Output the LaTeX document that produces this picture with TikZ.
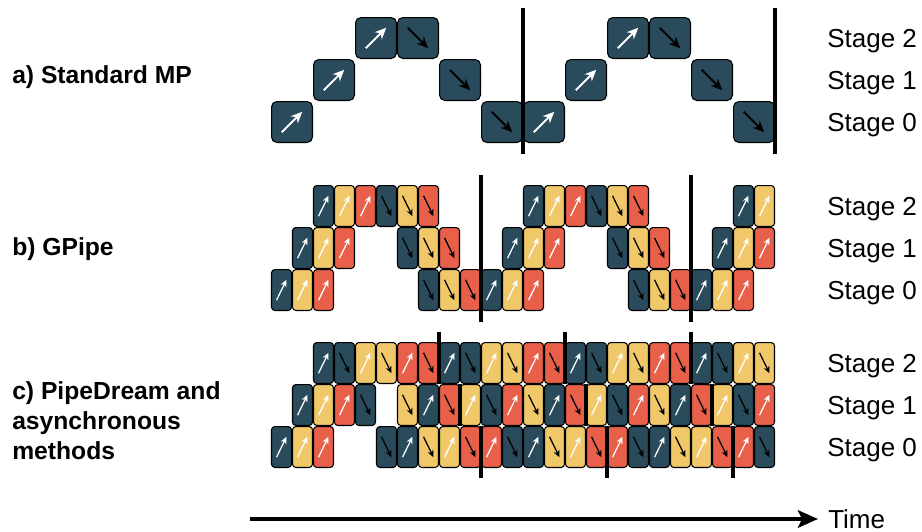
\documentclass[tikz,border=0pt]{standalone}
\usepackage{fontspec}
\setmainfont{Liberation Sans}
\usetikzlibrary{arrows.meta,calc,positioning}
\definecolor{dk}{HTML}{294B5B}
\definecolor{ye}{HTML}{F0C86A}
\definecolor{rd}{HTML}{E8604A}
\begin{document}
\begin{tikzpicture}[
	  x=0.75pt, y=-0.75pt,
	  ar/.style={line width=0.95pt, -{Stealth[length=5.2pt, width=4.6pt]}},
	  arbig/.style={line width=1.5pt, -{Stealth[length=8.5pt, width=7.5pt]}},
	  fw/.style={path picture={\draw[ar, white, #1]
	      ($(path picture bounding box.south west)!.25!(path picture bounding box.north east)$) --
	      ($(path picture bounding box.south west)!.75!(path picture bounding box.north east)$);}},
	  fw/.default={},
	  bw/.style={path picture={\draw[ar, black, #1]
	      ($(path picture bounding box.north west)!.25!(path picture bounding box.south east)$) --
	      ($(path picture bounding box.north west)!.75!(path picture bounding box.south east)$);}},
	  bw/.default={},
	  mb/.style={draw=black, line width=0.8pt, rounded corners=2.5pt, minimum width=15pt,
	    minimum height=30.7pt, inner sep=0pt},
	  bigmb/.style={mb, rounded corners=4pt, minimum width=30.7pt},
	  sep/.style={line width=2.6pt},
	  panel/.style={font=\fontsize{18.5}{22.5}\selectfont\bfseries, anchor=west, align=left, inner sep=0pt},
	  stagelab/.style={font=\fontsize{19.5}{23}\selectfont, anchor=west, inner sep=0pt},
	  timeline/.style={line width=3pt, -{Stealth[length=15pt, width=13pt, inset=3pt]}}]
	  \useasboundingbox (0,0) rectangle (922,532);
	  \node[panel] (la) at (12,77) {a) Standard MP};
	  \node[panel] (lb) at (12,249) {b) GPipe};
	  \node[panel] (lc) at (12,421) {c) PipeDream and\\asynchronous\\methods};
	  \foreach \y/\t in {41/2,83/1,125/0,209/2,251/1,293/0,366/2,408/1,450/0}
	    \node[stagelab] (st-\y) at (827,\y) {Stage \t};
	  \foreach \c/\s/\d in {0/0/fw,1/1/fw,2/2/fw,3/2/bw,4/1/bw,5/0/bw,
	      6/0/fw,7/1/fw,8/2/fw,9/2/bw,10/1/bw,11/0/bw}
	    \node[bigmb, fill=dk, \d=arbig] (mp-\c) at ({292+42*\c}, {122-42*\s}) {};
	  \foreach \c/\s/\f/\d in {0/0/dk/fw,1/0/ye/fw,2/0/rd/fw,7/0/dk/bw,8/0/ye/bw,9/0/rd/bw,
	      10/0/dk/fw,11/0/ye/fw,12/0/rd/fw,17/0/dk/bw,18/0/ye/bw,19/0/rd/bw,
	      20/0/dk/fw,21/0/ye/fw,22/0/rd/fw,
	      1/1/dk/fw,2/1/ye/fw,3/1/rd/fw,6/1/dk/bw,7/1/ye/bw,8/1/rd/bw,
	      11/1/dk/fw,12/1/ye/fw,13/1/rd/fw,16/1/dk/bw,17/1/ye/bw,18/1/rd/bw,
	      21/1/dk/fw,22/1/ye/fw,23/1/rd/fw,
	      2/2/dk/fw,3/2/ye/fw,4/2/rd/fw,5/2/dk/bw,6/2/ye/bw,7/2/rd/bw,
	      12/2/dk/fw,13/2/ye/fw,14/2/rd/fw,15/2/dk/bw,16/2/ye/bw,17/2/rd/bw,
	      22/2/dk/fw,23/2/ye/fw}
	    \node[mb, fill=\f, \d] (gp-\s-\c) at ({281.5+21*\c}, {290-42*\s}) {};
	  \foreach \c/\s/\f/\d in {0/0/dk/fw,1/0/ye/fw,2/0/rd/fw,5/0/dk/bw,6/0/dk/fw,7/0/ye/bw,
	      8/0/ye/fw,9/0/rd/bw,10/0/rd/fw,11/0/dk/bw,12/0/dk/fw,13/0/ye/bw,14/0/ye/fw,15/0/rd/bw,
	      16/0/rd/fw,17/0/dk/bw,18/0/dk/fw,19/0/ye/bw,20/0/ye/fw,21/0/rd/bw,22/0/rd/fw,23/0/dk/bw,
	      1/1/dk/fw,2/1/ye/fw,3/1/rd/fw,4/1/dk/bw,6/1/ye/bw,7/1/dk/fw,8/1/rd/bw,
	      9/1/ye/fw,10/1/dk/bw,11/1/rd/fw,12/1/ye/bw,13/1/dk/fw,14/1/rd/bw,
	      15/1/ye/fw,16/1/dk/bw,17/1/rd/fw,18/1/ye/bw,19/1/dk/fw,20/1/rd/bw,
	      21/1/ye/fw,22/1/dk/bw,23/1/rd/fw,
	      2/2/dk/fw,3/2/dk/bw,4/2/ye/fw,5/2/ye/bw,6/2/rd/fw,7/2/rd/bw,
	      8/2/dk/fw,9/2/dk/bw,10/2/ye/fw,11/2/ye/bw,12/2/rd/fw,13/2/rd/bw,
	      14/2/dk/fw,15/2/dk/bw,16/2/ye/fw,17/2/ye/bw,18/2/rd/fw,19/2/rd/bw,
	      20/2/dk/fw,21/2/dk/bw,22/2/ye/fw,23/2/ye/bw}
	    \node[mb, fill=\f, \d] (pd-\s-\c) at ({281.5+21*\c}, {447-42*\s}) {};
	  \draw[sep] (523,8) -- (523,154);
	  \draw[sep] (775,8) -- (775,154);
	  \draw[sep] (481,175) -- (481,322);
	  \draw[sep] (691,175) -- (691,322);
	  \foreach \x in {439,565,691} {
	    \draw[sep] (\x,332) -- (\x,384);
	    \draw[sep] ({\x+21},384) -- ({\x+21},426);
	    \draw[sep] ({\x+42},426) -- ({\x+42},478);
	  }
	  \coordinate (t0) at (250,519);
	  \coordinate (t1) at (818,519);
	  \draw[timeline] (t0) -- (t1);
	  \node[stagelab, right=7.5pt of t1] (time) {Time};
	\end{tikzpicture}
\end{document}
